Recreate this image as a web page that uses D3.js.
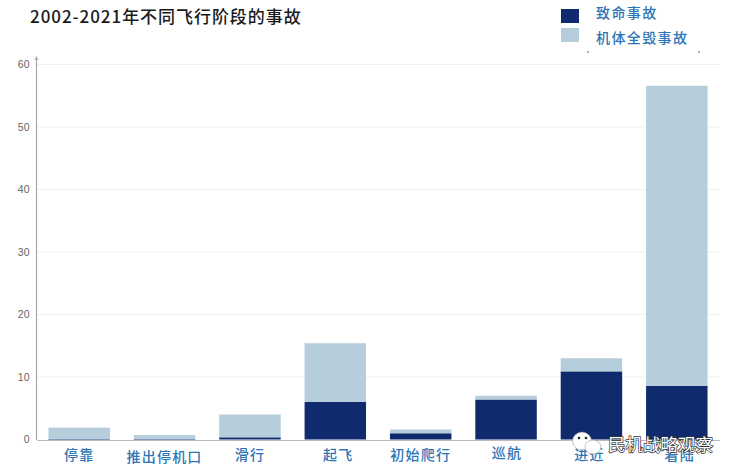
<!DOCTYPE html>
<html>
<head>
<meta charset="utf-8">
<script src="https://cdn.jsdelivr.net/npm/d3@7"></script>
<style>
  html, body { margin: 0; padding: 0; background: #fff; }
  text { font-family: "Noto Sans CJK SC", "Noto Sans", sans-serif; }
</style>
</head>
<body>
<div id="chart"></div>
<script>
var phases = ["停靠", "推出停机口", "滑行", "起飞", "初始爬行", "巡航", "进近", "着陆"];
var fatal = [0.1, 0.1, 0.35, 6, 1, 6.4, 10.9, 8.6];
var hullLoss = [1.8, 0.6, 3.65, 9.4, 0.6, 0.6, 2.1, 48];
var yTicks = [0, 10, 20, 30, 40, 50, 60];
var legendLabels = ["致命事故", "机体全毁事故"];
var titleText = "2002-2021年不同飞行阶段的事故";
var watermarkText = "民机战略观察";

var width = 738, height = 476;
var navy = "#0f2b6e", pale = "#b6cddc", blue = "#2e75b6";

var svg = d3.select("#chart")
  .append("svg")
  .attr("width", width)
  .attr("height", height)
  .style("display", "block");

var x = d3.scaleBand()
  .domain(phases)
  .range([36.5, 719.5])
  .paddingInner(0.28)
  .paddingOuter(0.14);

var y = d3.scaleLinear()
  .domain([0, 60])
  .range([439.5, 64.5]);

// gridlines
svg.append("g")
  .selectAll("line")
  .data(yTicks.slice(1))
  .join("line")
  .attr("x1", 37)
  .attr("x2", 720)
  .attr("y1", function(d) { return y(d) })
  .attr("y2", function(d) { return y(d) })
  .attr("stroke", "#efefef")
  .attr("stroke-width", 1);

// bars
var rows = phases.map(function(p, i) {
  return { phase: p, fatal: fatal[i], hull: hullLoss[i] };
});
var stacked = d3.stack().keys(["fatal", "hull"])(rows);
var colors = { fatal: navy, hull: pale };

svg.append("g")
  .selectAll("g")
  .data(stacked)
  .join("g")
  .attr("fill", function(s) { return colors[s.key] })
  .selectAll("rect")
  .data(function(s) { return s })
  .join("rect")
  .attr("x", function(d) { return x(d.data.phase) })
  .attr("width", x.bandwidth())
  .attr("y", function(d) { return y(d[1]) })
  .attr("height", function(d) { return y(d[0]) - y(d[1]) });

// y axis
var yAxis = svg.append("g")
  .attr("transform", "translate(36.5,0)")
  .call(d3.axisLeft(y).tickValues(yTicks).tickSize(0).tickPadding(7));
yAxis.select(".domain").remove();
yAxis.selectAll("text")
  .attr("font-size", 10.5)
  .attr("fill", "#666")
  .style("font-family", "'Liberation Sans', sans-serif");

svg.append("line")
  .attr("x1", 36.5).attr("x2", 36.5)
  .attr("y1", 58).attr("y2", 440)
  .attr("stroke", "#a8a8a8").attr("stroke-width", 1.2);
svg.append("path")
  .attr("d", "M34.8,60L36.5,56.5L38.2,60")
  .attr("fill", "none")
  .attr("stroke", "#a8a8a8")
  .attr("stroke-width", 0.8);

// x axis, labels sit a little unevenly in the source
var xNudge = { "起飞": [3, 0], "巡航": [1, -2], "推出停机口": [0, 2], "进近": [-2, 0], "着陆": [3, 0] };
var xAxis = svg.append("g")
  .attr("transform", "translate(0,440)")
  .call(d3.axisBottom(x).tickSize(0).tickPadding(10));
xAxis.select(".domain")
  .attr("stroke", "#bbb")
  .attr("stroke-width", 1.2);
xAxis.selectAll("text")
  .attr("font-size", 14)
  .attr("font-weight", 500)
  .attr("letter-spacing", 1.2)
  .attr("fill", blue)
  .attr("transform", function(d) {
    var n = xNudge[d] || [0, 0];
    return "translate(" + n[0] + "," + n[1] + ")";
  });

// title
svg.append("text")
  .attr("x", 30)
  .attr("y", 23)
  .attr("font-size", 17)
  .attr("font-weight", 500)
  .attr("letter-spacing", 0.95)
  .attr("fill", "#1a1a1a")
  .text(titleText);

// legend
var legend = svg.append("g")
  .selectAll("g")
  .data(legendLabels)
  .join("g")
  .attr("transform", function(d, i) { return "translate(561," + (9 + i * 19) + ")" });
legend.append("rect")
  .attr("width", 18)
  .attr("height", 14)
  .attr("fill", function(d, i) { return i ? pale : navy });
legend.append("text")
  .attr("x", 35)
  .attr("y", function(d, i) { return 9 + i * 6 })
  .attr("font-size", 14)
  .attr("font-weight", 500)
  .attr("letter-spacing", 1.4)
  .attr("fill", blue)
  .text(function(d) { return d });

// stray specks under the legend
svg.append("g")
  .selectAll("circle")
  .data([588, 699])
  .join("circle")
  .attr("cx", function(d) { return d })
  .attr("cy", 52)
  .attr("r", 0.8)
  .attr("fill", "#555");

// watermark
var wm = svg.append("g");
wm.append("ellipse").attr("cx", 582).attr("cy", 441).attr("rx", 9.5).attr("ry", 9)
  .attr("fill", "#fff").attr("stroke", "#888").attr("stroke-width", 0.5);
wm.append("ellipse").attr("cx", 593).attr("cy", 447).attr("rx", 8).attr("ry", 7)
  .attr("fill", "#fff").attr("stroke", "#888").attr("stroke-width", 0.5);
wm.selectAll("circle")
  .data([[579, 438], [586, 438]])
  .join("circle")
  .attr("cx", function(d) { return d[0] })
  .attr("cy", function(d) { return d[1] })
  .attr("r", 1.3)
  .attr("fill", "#223");
wm.append("text")
  .attr("x", 608).attr("y", 451)
  .attr("font-size", 17.5)
  .attr("fill", "#fff")
  .attr("stroke", "#333")
  .attr("stroke-width", 1.4)
  .attr("paint-order", "stroke")
  .text(watermarkText);
</script>
</body>
</html>
